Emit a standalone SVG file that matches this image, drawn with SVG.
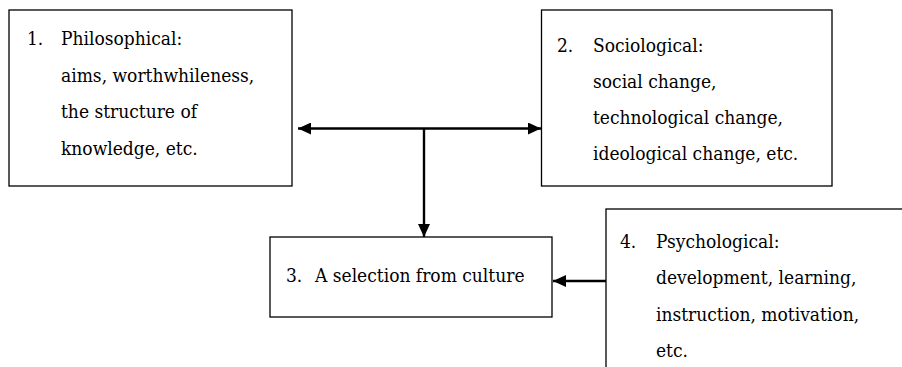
<svg xmlns="http://www.w3.org/2000/svg" width="902" height="367" viewBox="0 0 902 367">
<defs>
<style>
.box{fill:#fff;stroke:#000;stroke-width:1.3}
.c{stroke:#000;stroke-width:2.4;fill:none}
</style>
<marker id="ah" viewBox="0 0 13 12" refX="13" refY="6" markerWidth="13" markerHeight="12" markerUnits="userSpaceOnUse" orient="auto-start-reverse">
<path d="M0,0 L13,6 L0,12 Z" fill="#000"/>
</marker>
</defs>
<rect width="902" height="367" fill="#fff"/>
<g font-family="DejaVu Serif Condensed, DejaVu Serif, serif" font-stretch="condensed" font-size="19" fill="#000">
<g id="n1">
<rect class="box" x="9" y="10" width="283" height="176"/>
<text x="27" y="45">1.</text>
<text x="61" y="45">Philosophical:</text>
<text x="61" y="82">aims, worthwhileness,</text>
<text x="61" y="118">the structure of</text>
<text x="61" y="155">knowledge, etc.</text>
</g>
<g id="n2">
<rect class="box" x="541.5" y="10" width="290.5" height="176"/>
<text x="557" y="52">2.</text>
<text x="593" y="52">Sociological:</text>
<text x="593" y="88">social change,</text>
<text x="593" y="124">technological change,</text>
<text x="593" y="160">ideological change, etc.</text>
</g>
<g id="n3">
<rect class="box" x="270" y="237" width="282" height="80"/>
<text x="286" y="282">3.</text>
<text x="315" y="282">A selection from culture</text>
</g>
<g id="n4">
<rect class="box" x="606" y="209" width="310" height="170"/>
<text x="620" y="248">4.</text>
<text x="656" y="248">Psychological:</text>
<text x="656" y="284">development, learning,</text>
<text x="656" y="321">instruction, motivation,</text>
<text x="656" y="357">etc.</text>
</g>
</g>
<g id="connectors">
<line class="c" x1="298" y1="128.5" x2="541" y2="128.5" marker-start="url(#ah)" marker-end="url(#ah)"/>
<line class="c" x1="424" y1="128.5" x2="424" y2="237" marker-end="url(#ah)"/>
<line class="c" x1="606" y1="281" x2="553" y2="281" marker-end="url(#ah)"/>
</g>
</svg>
